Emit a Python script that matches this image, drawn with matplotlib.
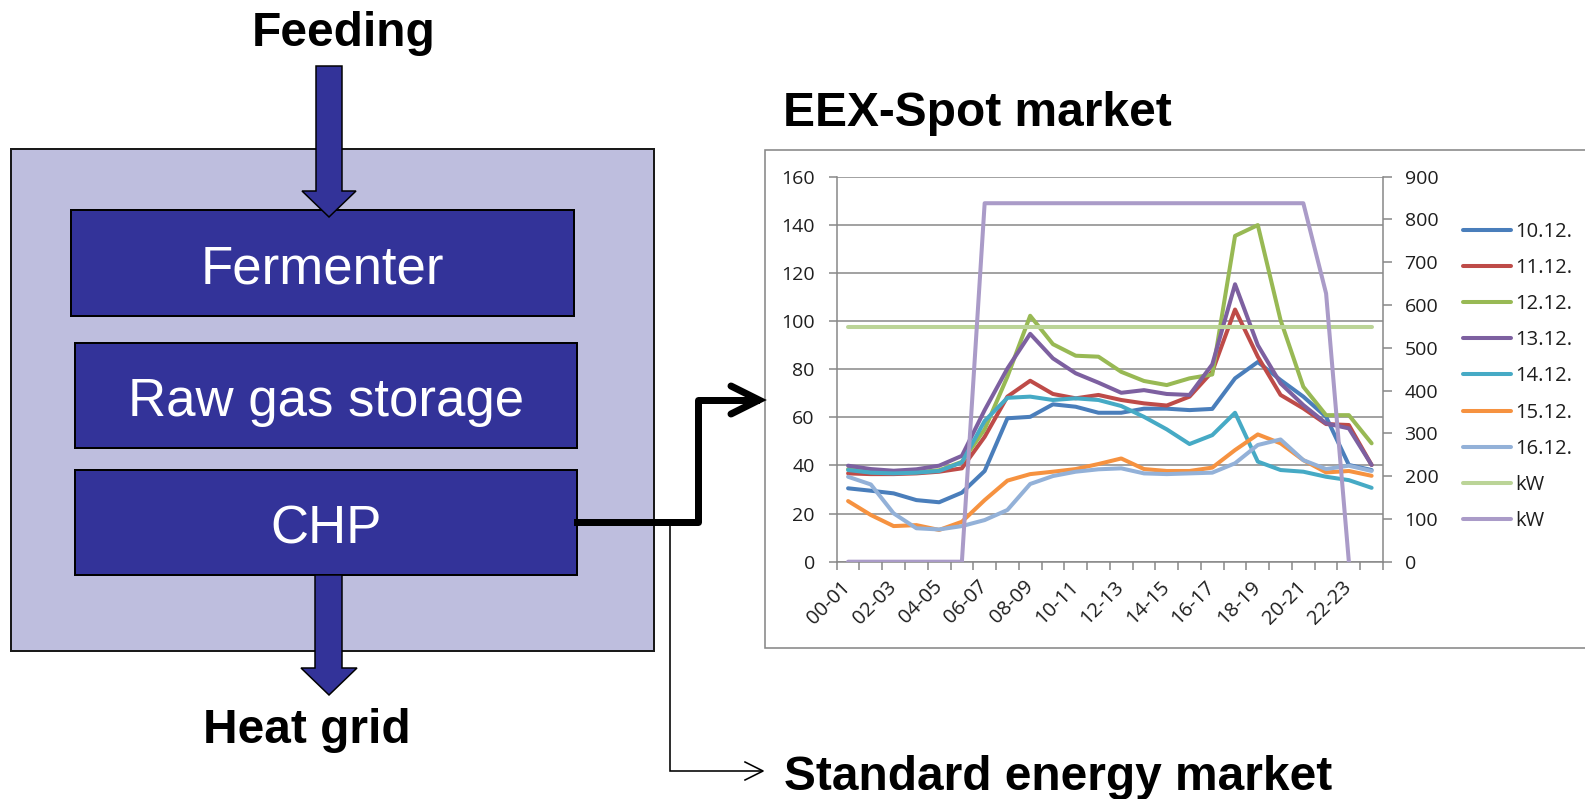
import numpy as np
import matplotlib
matplotlib.use("Agg")
import matplotlib.pyplot as plt
from matplotlib.patches import Rectangle, Polygon

# ---- data -------------------------------------------------------------
hours = ["00-01", "01-02", "02-03", "03-04", "04-05", "05-06", "06-07", "07-08",
         "08-09", "09-10", "10-11", "11-12", "12-13", "13-14", "14-15", "15-16",
         "16-17", "17-18", "18-19", "19-20", "20-21", "21-22", "22-23", "23-24"]

price_10 = [30.5, 29.5, 28.4, 25.6, 24.7, 28.7, 37.7, 59.6, 60.2, 65.4, 64.4, 61.9,
            61.9, 63.6, 63.6, 63.0, 63.5, 76.2, 83.0, 75.5, 68.6, 60.2, 40.2, 38.1]
price_11 = [36.7, 36.4, 36.4, 36.7, 37.4, 38.8, 51.9, 68.6, 75.2, 69.7, 67.9, 69.3,
            67.2, 65.8, 64.9, 68.6, 79.0, 104.8, 85.2, 69.3, 63.7, 57.2, 56.8, 40.2]
price_12 = [38.5, 37.2, 37.0, 37.2, 38.0, 41.5, 55.0, 76.9, 102.2, 90.4, 85.6, 85.2,
            78.9, 75.1, 73.4, 76.2, 77.8, 135.4, 139.9, 100.4, 72.7, 60.9, 60.9, 49.2]
price_13 = [39.9, 38.5, 37.8, 38.4, 39.9, 44.0, 63.0, 80.3, 94.7, 84.5, 78.3, 74.4,
            70.2, 71.3, 69.7, 69.3, 82.0, 115.3, 90.0, 74.1, 65.1, 57.5, 55.4, 40.2]
price_14 = [38.1, 37.0, 36.7, 37.0, 37.7, 41.3, 58.5, 68.1, 68.6, 67.2, 67.9, 67.2,
            64.7, 60.2, 55.0, 48.9, 52.6, 61.9, 41.6, 38.1, 37.4, 35.3, 33.9, 30.7]
price_15 = [25.2, 19.4, 14.8, 15.2, 13.2, 16.6, 25.6, 33.7, 36.4, 37.4, 38.5, 40.6,
            42.9, 38.5, 37.7, 37.7, 39.1, 46.4, 52.9, 49.2, 42.2, 37.1, 37.7, 35.7]
price_16 = [35.3, 32.1, 20.1, 13.9, 13.4, 14.8, 17.3, 21.5, 32.3, 35.6, 37.4, 38.4,
            38.8, 36.7, 36.4, 36.7, 37.0, 40.9, 48.5, 50.8, 42.2, 38.5, 39.9, 37.7]

power_flat = [548, 548, 548, 548, 548, 548, 548, 548, 548, 548, 548, 548,
              548, 548, 548, 548, 548, 548, 548, 548, 548, 548, 548, 548]
power_peak = [0, 0, 0, 0, 0, 0, 838, 838, 838, 838, 838, 838,
              838, 838, 838, 838, 838, 838, 838, 838, 838, 627, 0, np.nan]

price_labels = ["10.12.", "11.12.", "12.12.", "13.12.", "14.12.", "15.12.", "16.12."]
power_labels = ["kW", "kW"]

price_colors = ["#4A7EBB", "#BE4B48", "#98B954", "#7D60A0", "#46AAC5", "#F69240", "#93B1D8"]
power_colors = ["#BBD497", "#AA9BC8"]

# ---- figure -----------------------------------------------------------
W, H = 1585, 799
fig = plt.figure(figsize=(W / 100, H / 100), dpi=100)

# canvas in pixel units for the process diagram
bg = fig.add_axes([0, 0, 1, 1])
bg.set_xlim(0, W)
bg.set_ylim(H, 0)
bg.axis("off")

DIAG_FONT = ["Liberation Sans", "DejaVu Sans"]
CHART_FONT = ["Open Sans", "DejaVu Sans"]
BOX_BLUE = "#333399"
PX = 0.72  # points per pixel at 100 dpi

# plant frame
bg.add_patch(Rectangle((11, 149), 643, 502, facecolor="#BEBEDE",
                       edgecolor="#1a1a1a", lw=2 * PX, zorder=1))

# feeding arrow
feed = [(316, 66), (342, 66), (342, 191), (356, 191), (329, 217),
        (302, 191), (316, 191)]
bg.add_patch(Polygon(feed, closed=True, facecolor=BOX_BLUE, edgecolor="black",
                     lw=1.5 * PX, zorder=3))

# process blocks
blocks = [("Fermenter", 71, 210, 503, 106, 322),
          ("Raw gas storage", 75, 343, 502, 105, 326),
          ("CHP", 75, 470, 502, 105, 326)]
for name, x0, y0, w, h, tx in blocks:
    bg.add_patch(Rectangle((x0, y0), w, h, facecolor=BOX_BLUE, edgecolor="black",
                           lw=2 * PX, zorder=2))
    bg.text(tx, y0 + h / 2 + 20.5, name, color="white", fontsize=38,
            family=DIAG_FONT, ha="center", va="baseline", zorder=4)

# heat grid arrow
heat = [(315, 575), (342, 575), (342, 668), (357, 668), (329, 695),
        (301, 668), (315, 668)]
bg.add_patch(Polygon(heat, closed=True, facecolor=BOX_BLUE, edgecolor="black",
                     lw=1.5 * PX, zorder=3))

# chart frame
bg.add_patch(Rectangle((765, 150), 900, 498, facecolor="white",
                       edgecolor="#888888", lw=1.6 * PX, zorder=1))

# connection to the standard energy market (thin)
bg.plot([670, 670, 762], [522, 771, 771], color="black", lw=1.6 * PX,
        solid_joinstyle="miter", zorder=5)
bg.plot([745, 763, 745], [762, 771, 780], color="black", lw=1.6 * PX, zorder=5)

# connection to the spot market (thick)
bg.plot([577, 698, 698, 756], [522, 522, 400, 400], color="black", lw=7 * PX,
        solid_joinstyle="round", zorder=6)
bg.plot([731, 759, 731], [386, 400, 414], color="black", lw=7 * PX,
        solid_capstyle="round", solid_joinstyle="miter", zorder=6)

# headings
bold = dict(fontsize=34.5, fontweight="bold", family=DIAG_FONT, color="black",
            va="baseline")
bg.text(344, 46, "Feeding", ha="center", **bold)
bg.text(307, 743, "Heat grid", ha="center", **bold)
bg.text(783, 126, "EEX-Spot market", ha="left", **bold)
bg.text(784, 790, "Standard energy market", ha="left", **bold)

# ---- spot price chart --------------------------------------------------
left, right, top, bottom = 836.7, 1383.0, 176.7, 561.7
ax = fig.add_axes([left / W, 1 - bottom / H, (right - left) / W, (bottom - top) / H])
ax.patch.set_alpha(0)
x = np.arange(len(hours)) + 0.5

GRID = "#888888"
TXT = "#1e1e1e"
LW = 2.9
FS_Y = 14
FS_X = 14.5
FS_LEG = 14.5

handles = []
for vals, col, lab in zip([price_10, price_11, price_12, price_13, price_14,
                           price_15, price_16], price_colors, price_labels):
    ln, = ax.plot(x, vals, color=col, lw=LW, label=lab,
                  solid_joinstyle="round", solid_capstyle="round")
    handles.append(ln)

ax.set_xlim(0, len(hours))
ax.set_ylim(0, 160)
ax.set_yticks(np.arange(0, 161, 20))
ax.yaxis.grid(True, color=GRID, lw=1.1)
ax.set_axisbelow(True)
for s in ["top", "right"]:
    ax.spines[s].set_visible(False)
for s in ["left", "bottom"]:
    ax.spines[s].set_color(GRID)
    ax.spines[s].set_linewidth(1.1)

ax.set_xticks(np.arange(0, len(hours) + 1))
ax.set_xticklabels([])
ax.tick_params(axis="x", which="major", length=8 * PX, color=GRID, width=1.1)
ax.set_xticks(x[::2], minor=True)
ax.set_xticklabels(hours[::2], minor=True, rotation=45, ha="right",
                   va="center", rotation_mode="anchor",
                   fontsize=FS_X, family=CHART_FONT, color=TXT)
ax.tick_params(axis="x", which="minor", length=0, pad=16)
ax.tick_params(axis="y", length=8 * PX, color=GRID, width=1.1, pad=10,
               labelsize=FS_Y, labelcolor=TXT)
for t in ax.get_yticklabels():
    t.set_family(CHART_FONT)

ax2 = ax.twinx()
for vals, col, lab in zip([power_flat, power_peak], power_colors, power_labels):
    ln, = ax2.plot(x, vals, color=col, lw=LW, label=lab,
                   solid_joinstyle="round", solid_capstyle="round")
    handles.append(ln)
ax2.set_ylim(0, 900)
ax2.set_yticks(np.arange(0, 901, 100))
for s in ["top", "left", "bottom"]:
    ax2.spines[s].set_visible(False)
ax2.spines["right"].set_color(GRID)
ax2.spines["right"].set_linewidth(1.1)
ax2.tick_params(axis="y", length=9 * PX, color=GRID, width=1.1, pad=9,
                labelsize=FS_Y, labelcolor=TXT)
for t in ax2.get_yticklabels():
    t.set_family(CHART_FONT)

leg = ax2.legend(handles=handles, loc="upper left",
                 bbox_to_anchor=(1463 / W, 1 - 222 / H),
                 bbox_transform=fig.transFigure, frameon=False,
                 prop={"family": CHART_FONT, "size": FS_LEG},
                 handlelength=2.39, handletextpad=0.2, labelspacing=0.8,
                 borderpad=0, borderaxespad=0)
for t in leg.get_texts():
    t.set_color(TXT)

fig.savefig("out.png", dpi=100)
